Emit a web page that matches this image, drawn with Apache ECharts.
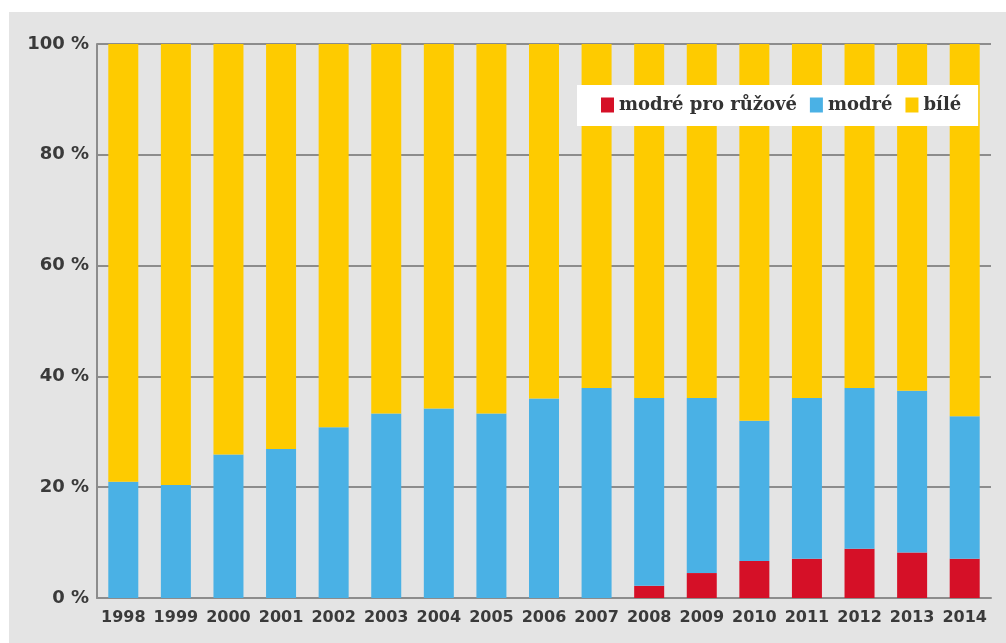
<!DOCTYPE html>
<html>
<head>
<meta charset="utf-8">
<script src="https://cdn.jsdelivr.net/npm/echarts@6/dist/echarts.min.js"></script>
<style>
  html, body { margin: 0; padding: 0; background: #ffffff; }
  #chart { width: 1006px; height: 643px; }
</style>
</head>
<body>
<div id="chart"></div>
<script>
// Years shown on the category axis
const years = ['1998', '1999', '2000', '2001', '2002', '2003', '2004', '2005', '2006',
               '2007', '2008', '2009', '2010', '2011', '2012', '2013', '2014'];

// Share (%) of "modré pro růžové"
const modreProRuzove = [0, 0, 0, 0, 0, 0, 0, 0, 0, 0, 2.2, 4.5, 6.7, 7.1, 8.9, 8.2, 7.1];

// Share (%) of "modré" (excluding the pink-for-blue part)
const modre = [21.0, 20.4, 25.9, 26.9, 30.8, 33.3, 34.2, 33.3, 36.0, 37.9,
               33.9, 31.6, 25.3, 29.0, 29.0, 29.2, 25.7];

// Share (%) of "bílé"
const bile = [79.0, 79.6, 74.1, 73.1, 69.2, 66.7, 65.8, 66.7, 64.0, 62.1,
              63.9, 63.9, 68.0, 63.9, 62.1, 62.6, 67.2];

// Value axis ticks
const yTicks = [0, 20, 40, 60, 80, 100];

const seriesNames = ['modré pro růžové', 'modré', 'bílé'];
const seriesColors = ['#d51027', '#4ab1e5', '#fecb00'];
const seriesData = [modreProRuzove, modre, bile];

const axisColor = '#8c8c8c';
const labelFont = { fontFamily: 'DejaVu Sans', fontWeight: 'bold', color: '#3a3a3a' };

const chart = echarts.init(document.getElementById('chart'), null, { renderer: 'canvas' });

chart.setOption({
  backgroundColor: '#ffffff',
  animation: false,
  graphic: [{
    type: 'rect',
    z: -10,
    silent: true,
    shape: { x: 9, y: 12, width: 1000, height: 640 },
    style: { fill: '#e4e4e4' }
  }],
  grid: { left: 97, right: 15, top: 44, bottom: 45, containLabel: false },
  legend: {
    data: seriesNames,
    left: 577,
    top: 85,
    orient: 'horizontal',
    backgroundColor: '#ffffff',
    padding: [11, 17, 12, 24],
    itemWidth: 13,
    itemHeight: 15,
    itemGap: 13,
    icon: 'rect',
    textStyle: { fontFamily: 'DejaVu Serif', fontWeight: 'bold', fontSize: 18, color: '#333333' }
  },
  xAxis: {
    type: 'category',
    data: years,
    axisLine: { show: true, lineStyle: { color: axisColor, width: 2 } },
    axisTick: { show: false },
    axisLabel: Object.assign({ margin: 12, interval: 0, fontSize: 16 }, labelFont)
  },
  yAxis: {
    type: 'value',
    min: yTicks[0],
    max: yTicks[yTicks.length - 1],
    interval: yTicks[1] - yTicks[0],
    axisLine: { show: true, lineStyle: { color: axisColor, width: 2 } },
    axisTick: { show: false },
    splitLine: { show: true, lineStyle: { color: axisColor, width: 2 } },
    axisLabel: Object.assign({ margin: 8, fontSize: 18, formatter: '{value} %' }, labelFont)
  },
  series: seriesNames.map((name, i) => ({
    name: name,
    type: 'bar',
    stack: 'share',
    barWidth: 30,
    itemStyle: { color: seriesColors[i] },
    data: seriesData[i]
  }))
});
</script>
</body>
</html>
